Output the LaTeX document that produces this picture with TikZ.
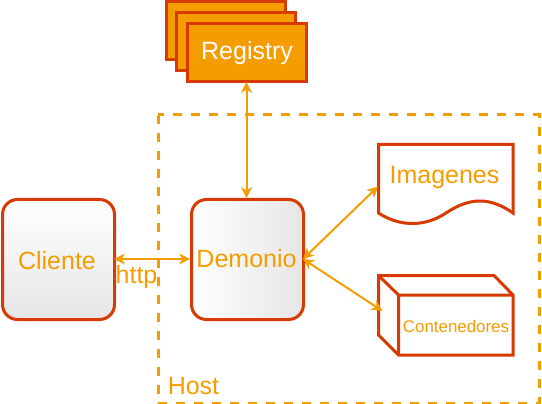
\documentclass[tikz,border=0pt]{standalone}
\usepackage{fontspec}
\setmainfont{Liberation Sans}
\usetikzlibrary{arrows.meta}
\definecolor{org}{HTML}{F59D00}
\definecolor{rd}{HTML}{D83B01}
\definecolor{gry}{HTML}{E6E6E6}
\tikzset{
  x=1pt,y=-1pt,
  txt/.style={text=org,font=\fontsize{25}{29}\selectfont,inner sep=0pt},
  outline/.style={draw=rd,line width=3pt,line join=miter},
  reg/.style={outline,fill=org,minimum width=119pt,minimum height=58pt,inner sep=0pt,anchor=north west},
  proc/.style={outline,rounded corners=15pt,minimum width=112pt,minimum height=120pt,inner sep=0pt,anchor=north west},
  link/.style={draw=org,line width=2pt,{Stealth[length=11pt,width=11pt]}-{Stealth[length=11pt,width=11pt]}},
}
\begin{document}
\begin{tikzpicture}
\useasboundingbox (0,0) rectangle (542,404);
\clip (0,0) rectangle (542,404);
\draw[draw=org,line width=3pt,dash pattern=on 9pt off 9pt] (158,115) rectangle (539,403);
\node[reg] (r3) at (165,0.5) {};
\node[reg] (r2) at (175,11.5) {};
\node[reg] (reg) at (186,22) {};
\node[text=white,font=\fontsize{25}{29}\selectfont,inner sep=0pt] (regt) at (247,53) {Registry};
\node[proc,top color=white,bottom color=gry] (cli) at (1,198) {};
\node[txt] (clit) at (57,261) {Cliente};
\node[proc,left color=white,right color=gry] (dem) at (190,198) {};
\node[txt] (demt) at (246.5,258.5) {Demonio};
% Imagenes document
\draw[outline,fill=white] (378.5,144.5) -- (513,144.5) -- (513,213)
  .. controls (490,197) and (470,197) .. (446,213)
  .. controls (425,227) and (400,227) .. (378.5,213) -- cycle;
\node[txt,anchor=center] (img) at (444.5,177) {Imagenes};
\coordinate (imgw) at (378,186.5);
% Contenedores box
\draw[outline,fill=white] (378.5,275.5) -- (494,275.5) -- (513,295) -- (513,355) -- (398.5,355) -- (378.5,335) -- cycle;
\draw[outline] (378.5,275.5) -- (398.5,295) -- (513,295) (398.5,295) -- (398.5,355);
\node[text=org,font=\fontsize{16.9}{20}\selectfont,inner sep=0pt] (con) at (456,326) {Contenedores};
\coordinate (conw) at (382.5,311);
\coordinate (deme) at (303,259);
\coordinate (demn) at (246.5,198);
\coordinate (regs) at (246.5,82);
\coordinate (cliE) at (114,259);
\coordinate (demW) at (190,259);
\draw[link] (regs) -- (demn);
\draw[link] (cliE) -- (demW);
\draw[link] (deme) -- (imgw);
\draw[link] (deme) -- (conw);
\node[txt] (http) at (136.5,277.5) {http};
\node[txt] (host) at (193.5,386) {Host};
\end{tikzpicture}
\end{document}
